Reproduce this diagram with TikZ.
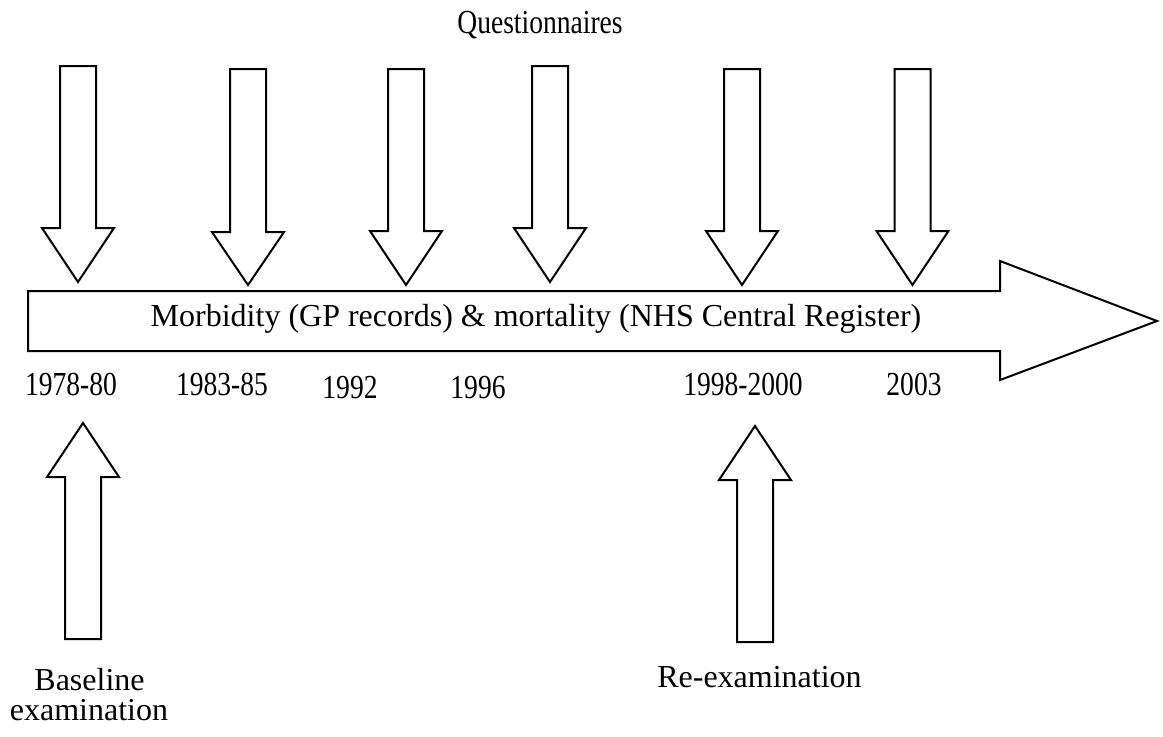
\documentclass[tikz,border=0pt]{standalone}
\usepackage{fontspec}
\setmainfont{Liberation Serif}
\newfontfamily\narrowserif{Liberation Serif}[FakeStretch=0.82]
\tikzset{
  blockarrow/.style={draw=black, fill=white, line width=1pt, line join=miter},
  labeltext/.style={inner sep=0pt, anchor=base, font=\fontsize{16}{19}\selectfont},
  narrowtext/.style={inner sep=0pt, anchor=base, font=\narrowserif\fontsize{16.8}{20}\selectfont},
}
\newcommand\tlDownArrow[5]{% name, cx, top, headbase, tip
  \draw[blockarrow] (#2-18,#3) -- (#2+18,#3) -- (#2+18,#4) -- (#2+36,#4) -- (#2,#5) -- (#2-36,#4) -- (#2-18,#4) -- cycle;
  \coordinate (#1) at (#2,#5);}
\newcommand\tlUpArrow[5]{% name, cx, bottom, headbase, tip
  \draw[blockarrow] (#2-18,#3) -- (#2+18,#3) -- (#2+18,#4) -- (#2+36,#4) -- (#2,#5) -- (#2-36,#4) -- (#2-18,#4) -- cycle;
  \coordinate (#1) at (#2,#5);}
\begin{document}
\begin{tikzpicture}[x=0.5pt,y=-0.5pt]
\useasboundingbox (0,0) rectangle (1163,736);
% main timeline arrow
\draw[blockarrow] (28,291) -- (1000,291) -- (1000,261) -- (1157,321) -- (1000,380) -- (1000,351) -- (28,351) -- cycle;
\node[labeltext] (main) at (536,326) {Morbidity (GP records) \& mortality (NHS Central Register)};
% questionnaire arrows
\tlDownArrow{q1}{78}{66}{228}{282}
\tlDownArrow{q2}{248}{69}{232}{285}
\tlDownArrow{q3}{406}{69}{231}{285}
\tlDownArrow{q4}{550}{66}{228}{282}
\tlDownArrow{q5}{742}{69}{231}{285}
\tlDownArrow{q6}{912.5}{69}{231}{285}
\node[narrowtext] (quest) at (540,33) {Questionnaires};
% years
\node[narrowtext] (y1) at (71,395) {1978-80};
\node[narrowtext] (y2) at (222,395) {1983-85};
\node[narrowtext] (y3) at (350,398) {1992};
\node[narrowtext] (y4) at (478,398) {1996};
\node[narrowtext] (y5) at (743,395) {1998-2000};
\node[narrowtext] (y6) at (914,395) {2003};
% examination arrows
\tlUpArrow{b1}{83}{639}{477}{423}
\tlUpArrow{b2}{755}{642}{480}{426}
\node[labeltext] (base1) at (89.5,690) {Baseline};
\node[labeltext] (base2) at (89,720) {examination};
\node[labeltext] (reex) at (759.5,687) {Re-examination};
\end{tikzpicture}
\end{document}
